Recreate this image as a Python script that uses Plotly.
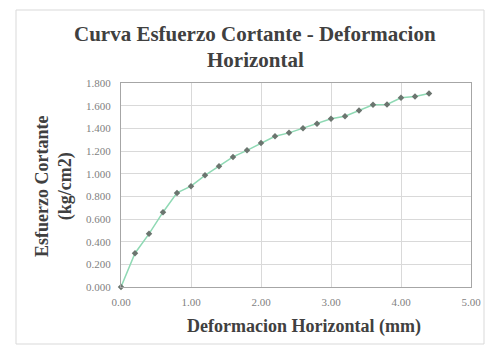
import plotly.graph_objects as go

deformacion = [0.0, 0.2, 0.4, 0.6, 0.8, 1.0, 1.2, 1.4, 1.6, 1.8, 2.0, 2.2,
               2.4, 2.6, 2.8, 3.0, 3.2, 3.4, 3.6, 3.8, 4.0, 4.2, 4.4]
esfuerzo = [0.000, 0.298, 0.469, 0.660, 0.830, 0.890, 0.985, 1.065, 1.148,
            1.206, 1.270, 1.330, 1.360, 1.400, 1.440, 1.484, 1.507, 1.557,
            1.608, 1.610, 1.670, 1.680, 1.708]

title_l1 = "Curva Esfuerzo Cortante - Deformacion"
title_l2 = "Horizontal"
x_title = "Deformacion Horizontal (mm)"
y_title = "Esfuerzo Cortante<br>(kg/cm2)"

# page has an 8px body margin; figure is sized to fit inside the window
OFF = 8
W, H = 493 - 2 * OFF, 354 - 2 * OFF
PL, PR, PT, PB = 121, 471, 83, 287      # plot area in page pixels
pw, ph = PR - PL, PB - PT

def px(x):
    return (x - PL) / pw

def py(y):
    return (PB - y) / ph

fig = go.Figure()
fig.add_trace(go.Scatter(
    x=deformacion, y=esfuerzo, mode="lines+markers",
    line=dict(color="#8fd9b4", width=1.5),
    marker=dict(symbol="diamond", size=5, color="#6b756f"),
    showlegend=False, cliponaxis=False,
))

serif = "Liberation Serif, Times New Roman, serif"
clear = "rgba(0,0,0,0)"

fig.update_layout(
    width=W, height=H,
    margin=dict(l=PL - OFF, r=W + OFF - PR, t=PT - OFF, b=H + OFF - PB),
    paper_bgcolor="white", plot_bgcolor="white",
    font=dict(family=serif, color="#595959"),
    xaxis=dict(range=[0, 5], dtick=1, tickformat=".2f", automargin=False,
               showgrid=True, gridcolor="#d9d9d9", gridwidth=1,
               zeroline=False, showline=True, linecolor="#a6a6a6", mirror=True,
               ticks="outside", ticklen=5, tickcolor=clear,
               tickfont=dict(size=11, family=serif, color="#7f7f7f")),
    yaxis=dict(range=[0, 1.8], dtick=0.2, tickformat=".3f", automargin=False,
               showgrid=True, gridcolor="#d9d9d9", gridwidth=1,
               zeroline=False, showline=True, linecolor="#a6a6a6", mirror=True,
               ticks="outside", ticklen=7, tickcolor=clear,
               tickfont=dict(size=11, family=serif, color="#7f7f7f")),
    shapes=[
        dict(type="rect", xref="paper", yref="paper",
             x0=px(16), x1=px(484), y0=py(344), y1=py(10),
             line=dict(color="#d9d9d9", width=1), fillcolor="rgba(0,0,0,0)",
             layer="below"),
    ],
    annotations=[
        dict(text="<b>" + title_l1 + "</b>", xref="paper", yref="paper",
             x=px(255), y=py(34), showarrow=False,
             xanchor="center", yanchor="middle",
             font=dict(size=21, family=serif, color="#404040")),
        dict(text="<b>" + title_l2 + "</b>", xref="paper", yref="paper",
             x=px(255), y=py(60), showarrow=False,
             xanchor="center", yanchor="middle",
             font=dict(size=21, family=serif, color="#404040")),
        dict(text="<b>" + x_title + "</b>", xref="paper", yref="paper",
             x=px(304), y=py(326), showarrow=False,
             xanchor="center", yanchor="middle",
             font=dict(size=18, family=serif, color="#404040")),
        dict(text="<b>" + y_title + "</b>", xref="paper", yref="paper",
             x=px(54), y=py(187), showarrow=False, textangle=-90,
             xanchor="center", yanchor="middle",
             font=dict(size=18, family=serif, color="#404040")),
    ],
)

fig.write_html("out.html")
